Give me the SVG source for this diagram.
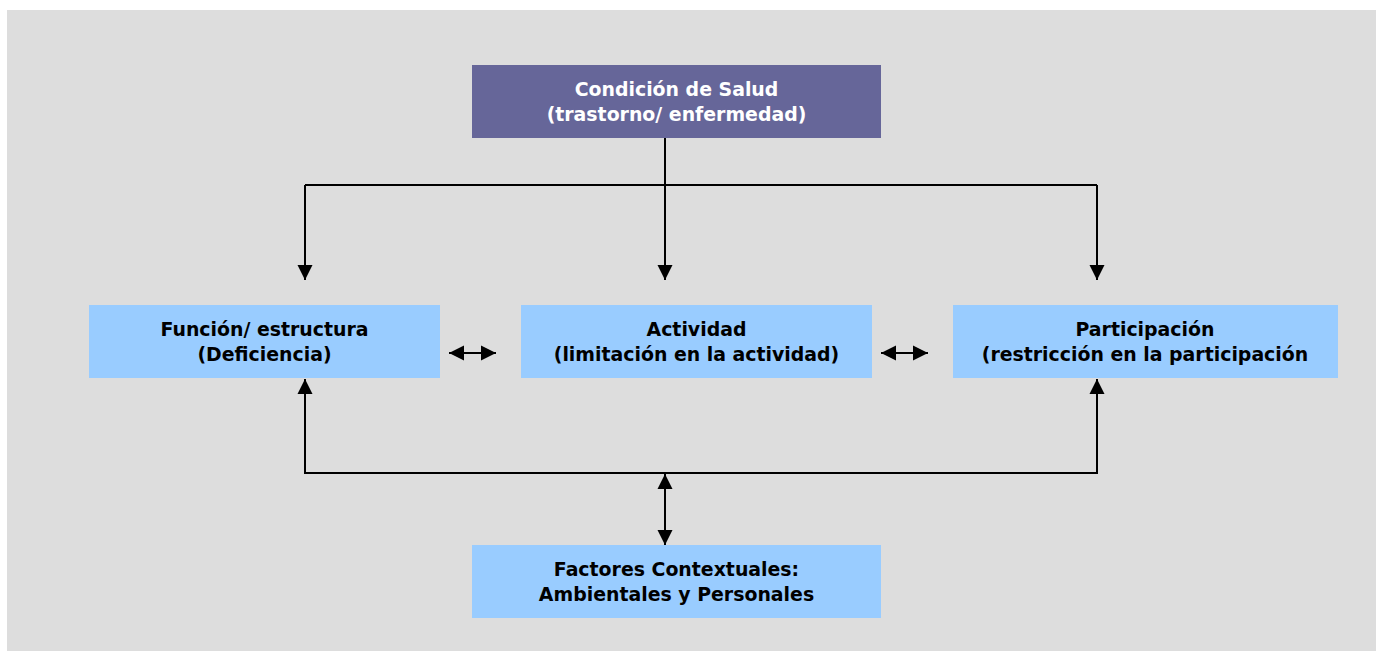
<svg xmlns="http://www.w3.org/2000/svg" width="1380" height="651" viewBox="0 0 1380 651">
<style>
.box{fill:#99CCFF}
.top{fill:#666699}
.t{font-family:"DejaVu Sans",Verdana,sans-serif;font-weight:bold;font-size:18.9px;text-anchor:middle;fill:#000}
.w{fill:#fff}
.ln{stroke:#000;stroke-width:2;fill:none}
</style>
<defs>
<marker id="ah" markerWidth="16" markerHeight="16" viewBox="0 0 16 16" refX="15" refY="8" orient="auto-start-reverse" markerUnits="userSpaceOnUse">
<path d="M0,0.5 L15,8 L0,15.5 Z" fill="#000"/>
</marker>
</defs>
<rect x="0" y="0" width="1380" height="651" fill="#fff"/>
<rect x="7" y="10" width="1369" height="641" fill="#DDDDDD"/>
<g id="connectors">
<path class="ln" d="M665,138 V280" marker-end="url(#ah)"/>
<path class="ln" d="M305,185 H1097"/>
<path class="ln" d="M305,185 V280" marker-end="url(#ah)"/>
<path class="ln" d="M1097,185 V280" marker-end="url(#ah)"/>
<path class="ln" d="M449,353 H496" marker-start="url(#ah)" marker-end="url(#ah)"/>
<path class="ln" d="M881,353 H928" marker-start="url(#ah)" marker-end="url(#ah)"/>
<path class="ln" d="M305,379 V473 H1097 V379" marker-start="url(#ah)" marker-end="url(#ah)"/>
<path class="ln" d="M665,474 V545" marker-start="url(#ah)" marker-end="url(#ah)"/>
</g>
<g id="salud">
<rect class="top" x="472" y="65" width="409" height="73"/>
<text class="t w" x="676.5" y="96">Condición de Salud</text>
<text class="t w" x="676.5" y="121">(trastorno/ enfermedad)</text>
</g>
<g id="funcion">
<rect class="box" x="89" y="305" width="351" height="73"/>
<text class="t" x="264.5" y="336">Función/ estructura</text>
<text class="t" x="264.5" y="361">(Deficiencia)</text>
</g>
<g id="actividad">
<rect class="box" x="521" y="305" width="351" height="73"/>
<text class="t" x="696.5" y="336">Actividad</text>
<text class="t" x="696.5" y="361">(limitación en la actividad)</text>
</g>
<g id="participacion">
<rect class="box" x="953" y="305" width="385" height="73"/>
<text class="t" x="1145" y="336">Participación</text>
<text class="t" x="1145" y="361">(restricción en la participación</text>
</g>
<g id="factores">
<rect class="box" x="472" y="545" width="409" height="73"/>
<text class="t" x="676.5" y="576">Factores Contextuales:</text>
<text class="t" x="676.5" y="601">Ambientales y Personales</text>
</g>
</svg>
